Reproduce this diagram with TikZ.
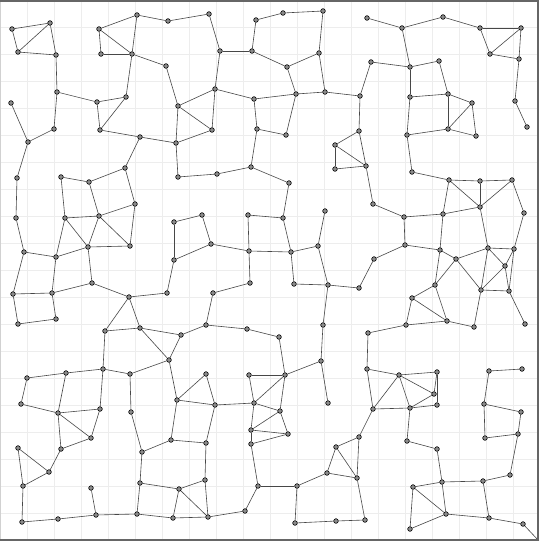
\documentclass[tikz,border=0pt]{standalone}
\usetikzlibrary{backgrounds}
\begin{document}
\begin{tikzpicture}[x=1pt,y=-1pt,
  dot/.style={circle,draw=black,fill=black!45,line width=0.6pt,inner sep=0pt,minimum size=4.6pt},
  edge/.style={draw=black!72,line width=0.6pt},
  gridline/.style={draw=black!7,line width=0.6pt}]
\useasboundingbox (0,0) rectangle (539,541);
\foreach \n/\x/\y in {
a1/12/29,a2/50/23,a3/18/52,a4/56/55,a5/57/92,a6/97/102,a7/126/97,a8/100/130,a9/140/137,a10/176/143,
a11/178/106,a12/166/66,a13/132/54,a14/137/15,a15/99/29,a16/101/54,a17/168/21,a18/11/103,a19/28/142,a20/54/129,
b1/209/14,b2/220/51,b3/252/51,b4/256/20,b5/283/13,b6/323/11,b7/319/53,b8/287/67,b9/296/94,b10/325/92,
b11/254/99,b12/215/89,b14/212/130,b16/257/129,b17/286/135,b18/335/145,b19/335/169,d0/125/168,
c1/367/18,c2/402/28,c3/443/17,c4/480/28,c5/521/28,c6/490/54,c7/519/59,c8/515/101,c9/527/127,c10/371/62,
c11/410/67,c12/439/61,c13/448/94,c14/410/97,c15/472/103,c16/448/129,c17/476/136,c18/407/135,c19/412/172,c20/360/96,
c21/359/131,c22/366/166,
d1/17/178,d2/16/218,d3/24/252,d4/56/257,d5/13/294,d6/52/293,d7/18/324,d8/56/319,d9/61/177,d10/89/182,
d11/65/218,d12/99/216,d13/135/204,d14/88/247,d15/130/246,d16/92/283,d17/129/297,d18/167/293,d19/174/260,d20/174/222,
d21/105/331,d22/140/328,e0/178/177,d24/217/174,d25/251/167,
e1/289/183,e2/283/218,e3/248/215,e4/249/251,e5/291/252,e7/202/215,e8/211/244,e10/250/283,e11/213/293,e12/206/325,
e13/181/335,e14/247/329,e15/279/337,e16/318/246,e17/325/211,e18/294/284,e19/328/285,e20/359/288,e21/323/325,
f1/449/180,f2/480/181,f3/512/180,f4/480/207,f5/524/213,f6/443/214,f7/404/217,f8/373/204,f9/405/245,f10/440/250,
f11/488/248,f12/514/249,f13/456/259,f14/505/266,f15/481/290,f16/509/291,f17/525/324,f18/435/285,f19/412/298,f20/447/321,
f21/406/325,f22/474/327,f23/368/333,f24/374/259,
g1/27/378,g2/66/373,g3/103/369,g4/21/404,g5/58/413,g6/100/409,g7/91/438,g8/61/449,g9/49/472,g10/18/448,
g11/23/486,g12/22/522,g13/58/519,g14/96/515,g15/91/488,g16/137/514,g17/140/483,g18/142/452,g19/131/412,g20/130/374,
g21/169/360,g22/177/400,g23/171/440,g24/179/489,g25/173/518,
h1/206/374,h3/215/405,h4/206/443,h5/205/480,h7/208/517,h9/245/511,h10/258/486,h11/297/486,h12/295/523,h13/336/521,
h14/327/473,h15/336/447,h16/357/478,h17/359/437,h18/254/403,h19/249/375,h20/285/375,h21/321/361,h22/328/403,h23/280/411,
h24/251/430,h25/288/434,h26/251/444,
i1/367/369,i2/399/375,i3/437/372,i4/434/394,i5/437/405,i6/410/408,i7/373/409,i10/365/520,i11/407/441,i12/437/449,
i13/442/482,i14/413/487,i15/446/514,i16/410/529,i17/483/481,i18/510/475,i19/518/434,i20/485/438,i21/484/404,i22/521/412,
i23/489/371,i24/522/369,i25/489/518,i26/523/524}
  \node[dot] (\n) at (\x,\y) {};
\coordinate (z) at (539,541);
\begin{pgfonlayer}{background}
\fill[white] (0,0) rectangle (539,541);
\foreach \k in {1,...,19} {
  \draw[gridline] (27*\k,0) -- (27*\k,541);
  \draw[gridline] (0,27*\k) -- (539,27*\k);
}
\foreach \u/\v in {
a1/a2,a1/a3,a2/a3,a3/a4,a2/a4,a4/a5,a5/a6,a6/a7,a6/a8,a7/a8,a8/a9,a9/a10,a11/a10,a12/a11,a13/a12,a14/a13,
a15/a14,a15/a13,a15/a16,a16/a13,a14/a17,a13/a7,a18/a19,a19/a20,a20/a5,a19/d1,d9/d10,d10/d0,a9/d0,a10/e0,
a17/b1,b1/b2,b2/b3,b3/b4,b4/b5,b5/b6,b6/b7,b7/b8,b3/b8,b8/b9,b7/b10,b9/b10,b10/c20,b9/b11,b11/b12,b12/b2,
b12/a11,b12/b14,a11/b14,b14/a10,e0/d24,d24/d25,d25/e1,b11/b16,b16/b17,b17/b9,b16/d25,b18/b19,b18/c21,b18/c22,b19/c22,
c1/c2,c2/c3,c3/c4,c4/c5,c4/c6,c5/c6,c6/c7,c5/c7,c7/c8,c8/c9,c10/c11,c2/c11,c11/c12,c12/c13,c11/c14,c14/c13,
c13/c15,c13/c16,c16/c15,c15/c17,c16/c17,c14/c18,c18/c16,c18/c19,c19/f1,c10/c20,c20/c21,c21/c22,c22/f8,
d1/d2,d2/d3,d3/d4,d3/d5,d5/d6,d4/d6,d5/d7,d7/d8,d6/d8,d9/d11,d11/d12,d10/d12,d12/d13,d0/d13,d11/d14,d12/d14,
d14/d15,d12/d15,d13/d15,d4/d11,d4/d14,d14/d16,d6/d16,d16/d17,d17/d18,d18/d19,d19/d20,d20/e7,d17/d21,d17/d22,
d21/d22,d22/e13,d22/g21,d21/g3,
e1/e2,e3/e2,e3/e4,e4/e5,e2/e5,e7/e8,e8/e4,d19/e8,e4/e10,e10/e11,e11/e12,e12/e13,e12/e14,e14/e15,e15/h20,e13/g21,
e5/e16,e16/e17,e5/e18,e18/e19,e16/e19,e19/e20,e19/e21,e21/h21,
f1/f2,f2/f3,f2/f4,f1/f4,f3/f4,f3/f5,f1/f6,f6/f4,f7/f6,f8/f7,f7/f9,f9/f10,f6/f10,f4/f11,f11/f12,f5/f12,f10/f13,
f13/f11,f11/f14,f12/f14,f11/f15,f13/f15,f14/f15,f15/f16,f14/f16,f12/f16,f16/f17,f10/f18,f13/f18,f18/f19,f18/f20,
f19/f20,f19/f21,f21/f20,f20/f22,f15/f22,f23/f21,f9/f24,f24/e20,f23/i1,
g1/g2,g2/g3,g1/g4,g4/g5,g2/g5,g5/g6,g3/g6,g5/g7,g6/g7,g5/g8,g8/g7,g8/g9,g10/g9,g10/g11,g9/g11,g11/g12,g12/g13,
g13/g14,g15/g14,g14/g16,g16/g17,g17/g18,g18/g19,g19/g20,g3/g20,g20/g21,g21/g22,g22/g23,g23/g18,g17/g24,g24/g25,g16/g25,
h1/g22,h1/h3,g22/h3,h3/h4,g23/h4,h4/h5,g24/h5,h5/h7,g24/h7,g25/h7,h7/h9,h9/h10,h10/h11,h11/h12,h12/h13,h11/h14,
h14/h15,h14/h16,h15/h16,h15/h17,h16/h17,h3/h18,h19/h20,h19/h18,h20/h18,h20/h21,h21/h22,h18/h23,h20/h23,h18/h24,
h23/h24,h23/h25,h24/h25,h24/h26,h26/h25,h26/h10,h13/i10,
i1/i2,i2/i3,i2/i4,i3/i4,i3/i5,i2/i6,i6/i4,i6/i5,i1/i7,i2/i7,i7/i6,i7/h17,h16/i10,i6/i11,i11/i12,i12/i13,i13/i14,
i13/i15,i14/i15,i14/i16,i16/i15,i13/i17,i17/i18,i18/i19,i20/i19,i21/i20,i21/i22,i22/i19,i23/i21,i23/i24,i15/i25,
i17/i25,i25/i26,i26/z}
  \draw[edge] (\u) -- (\v);
\draw[black!18,line width=1pt] (0.5,0) -- (0.5,541);
\draw[black!60,line width=2pt] (0,1) -- (539,1);
\draw[black!60,line width=2pt] (538,0) -- (538,541);
\draw[black!60,line width=2pt] (0,540) -- (539,540);
\end{pgfonlayer}
\end{tikzpicture}
\end{document}
